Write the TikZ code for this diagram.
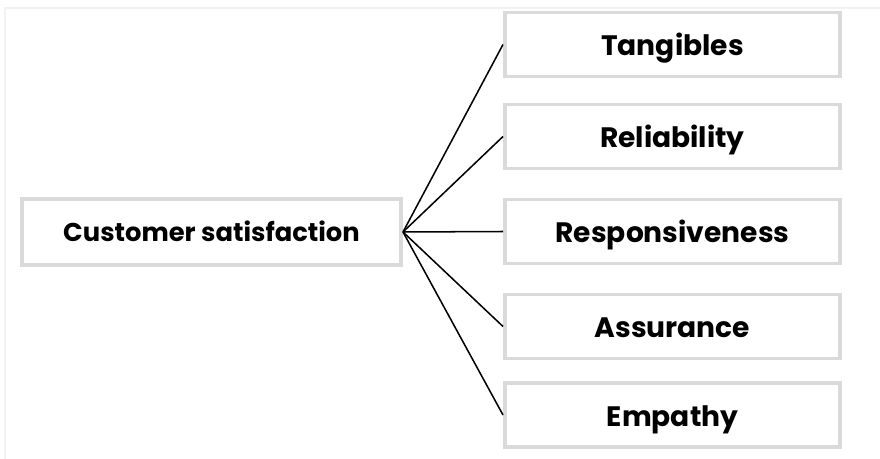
\documentclass[tikz,border=0pt]{standalone}
\usepackage{fontspec}
\setmainfont{Poppins}
\usepackage{tikz}
\usetikzlibrary{positioning}

\definecolor{boxgray}{HTML}{DADADA}
\definecolor{framegray}{HTML}{F2F2F2}

\begin{document}
\begin{tikzpicture}[x=0.03cm, y=-0.03cm,
		factor/.style={draw=boxgray, line width=3.4pt, fill=white, minimum width=10.05cm, minimum height=1.92cm, text height=19.5pt, text depth=0pt, font=\fontsize{24}{28}\selectfont\bfseries},
		link/.style={line width=1.3pt, black}]
			\useasboundingbox (0,0) rectangle (880,459);
			\draw[framegray, line width=1pt] (5,459) -- (5,8) -- (880,8);

			\node[factor, minimum width=11.37cm, minimum height=1.98cm, text height=17pt, font=\fontsize{22}{26}\selectfont\bfseries] (cs) at (211.5,232) {Customer satisfaction};

			\node[factor] (tan) at (672.5,44.5) {Tangibles};
			\node[factor] (rel) at (672.5,136.5) {Reliability};
			\node[factor] (res) at (672.5,231.5) {Responsiveness};
			\node[factor] (ass) at (672.5,326.5) {Assurance};
			\node[factor] (emp) at (672.5,415) {Empathy};

			\foreach \n in {tan, rel, res, ass, emp}
				\draw[link] (cs.east) -- (\n.west);
		\end{tikzpicture}
\end{document}
